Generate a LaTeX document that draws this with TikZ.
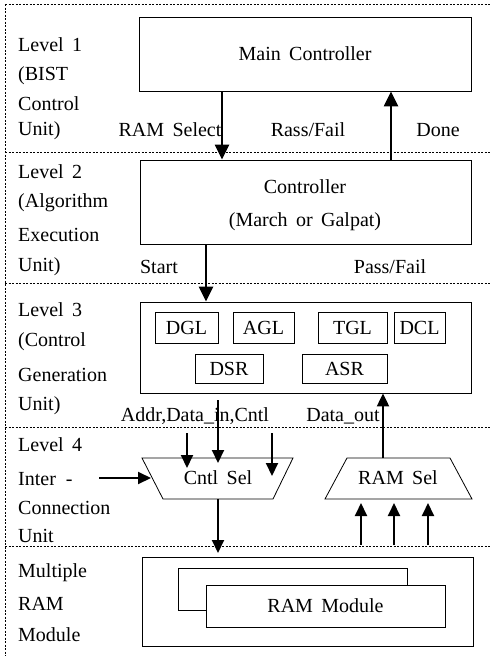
\documentclass[tikz,border=0pt]{standalone}
\usepackage{fontspec}
\setmainfont{Liberation Serif}
\usetikzlibrary{arrows.meta}
\newcommand{\ws}{\hspace{0.42em}}
\begin{document}
\begin{tikzpicture}[x=1pt,y=-1pt,
  every node/.style={font=\fontsize{20}{22}\selectfont, inner sep=0pt},
  box/.style={draw, line width=0.8pt},
  sep/.style={line width=0.55pt, dash pattern=on 2pt off 1.5pt},
  arr/.style={line width=2.3pt, -{Triangle[length=15pt,width=14pt]}},
  sarr/.style={line width=2pt, -{Triangle[length=13pt,width=12pt]}},
  lvl/.style={anchor=west}]
\useasboundingbox (0,0) rectangle (491,656);
% frame and separators
\draw[sep] (5,4) -- (491,4);
\draw[sep] (5,4) -- (5,656);
\draw[sep] (5,152) -- (491,152);
\draw[sep] (5,283) -- (491,283);
\draw[sep] (5,427) -- (491,427);
\draw[sep] (5,546) -- (491,546);
% level labels
\node[lvl] (l1a) at (18,45) {Level\ws 1};
\node[lvl] (l1b) at (18,76) {(BIST};
\node[lvl] (l1c) at (18,104) {Control};
\node[lvl] (l1d) at (18,131) {Unit)};
\node[lvl] (l2a) at (18,172) {Level\ws 2};
\node[lvl] (l2b) at (18,203) {(Algorithm};
\node[lvl] (l2c) at (18,235) {Execution};
\node[lvl] (l2d) at (18,267) {Unit)};
\node[lvl] (l3a) at (18,310) {Level\ws 3};
\node[lvl] (l3b) at (18,342) {(Control};
\node[lvl] (l3c) at (18,375) {Generation};
\node[lvl] (l3d) at (18,406) {Unit)};
\node[lvl] (l4a) at (18,445) {Level\ws 4};
\node[lvl] (l4b) at (18,479) {Inter\ \ -};
\node[lvl] (l4c) at (18,508) {Connection};
\node[lvl] (l4d) at (18,536) {Unit};
\node[lvl] (l5a) at (18,573) {Multiple};
\node[lvl] (l5b) at (18,604) {RAM};
\node[lvl] (l5c) at (18,635) {Module};
% level 1
\node[box, minimum width=332pt, minimum height=74pt] (main) at (305,54) {Main\ws Controller};
\node (ramsel) at (170,130) {RAM\ws Select};
\node (rass) at (308,130) {Rass/Fail};
\node (done) at (438,130) {Done};
% level 2
\node[box, minimum width=331pt, minimum height=84pt] (ctrl) at (305.5,202) {};
\node (ctrlt) at (305,187) {Controller};
\node (ctrlb) at (305,222) {(March\ws or\ws Galpat)};
\node (start) at (159,267) {Start};
\node (pass) at (390,267) {Pass/Fail};
\draw[arr] (main.south -| 222,0) -- (ctrl.north -| 222,0);
\draw[arr] (ctrl.north -| 391,0) -- (main.south -| 391,0);
% level 3
\node[box, minimum width=331pt, minimum height=91pt] (cgu) at (305.5,347.5) {};
\node[box, minimum width=63pt, minimum height=31pt] (dgl) at (186.5,327.5) {DGL};
\node[box, minimum width=61pt, minimum height=31pt] (agl) at (263.5,327.5) {AGL};
\node[box, minimum width=69pt, minimum height=31pt] (tgl) at (352.5,327.5) {TGL};
\node[box, minimum width=51pt, minimum height=31pt] (dcl) at (419.5,327.5) {DCL};
\node[box, minimum width=68pt, minimum height=29pt] (dsr) at (229,368.5) {DSR};
\node[box, minimum width=85pt, minimum height=29pt] (asr) at (344.5,368.5) {ASR};
\draw[arr] (ctrl.south -| 206,0) -- (cgu.north -| 206,0);
\node (addr) at (195,416) {Addr,Data\_in,Cntl};
\node (dout) at (343,416) {Data\_out};
% level 4
\coordinate (cs1) at (142,458); \coordinate (cs2) at (293,458);
\coordinate (cs3) at (273,499); \coordinate (cs4) at (163,499);
\draw[box] (cs1) -- (cs2) -- (cs3) -- (cs4) -- cycle;
\node (cntlsel) at (218,478) {Cntl\ws Sel};
\coordinate (rs1) at (347,458); \coordinate (rs2) at (450,458);
\coordinate (rs3) at (472,499); \coordinate (rs4) at (325,499);
\draw[box] (rs1) -- (rs2) -- (rs3) -- (rs4) -- cycle;
\node (ramselbox) at (398,478) {RAM\ws Sel};
\coordinate (a1s) at (187,433); \coordinate (a1e) at (187,468);
\coordinate (a2s) at (218,400); \coordinate (a2e) at (218,463);
\coordinate (a3s) at (272,433); \coordinate (a3e) at (272,476);
\draw[sarr] (a1s) -- (a1e);
\draw[sarr] (a2s) -- (a2e);
\draw[sarr] (a3s) -- (a3e);
\coordinate (inl) at (99,478); \coordinate (inr) at (151,478);
\draw[sarr] (inl) -- (inr);
\draw[sarr] (rs1 -| 383,0) -- (cgu.south -| 383,0);
\coordinate (u1s) at (361,545); \coordinate (u1e) at (361,503);
\coordinate (u2s) at (394,545); \coordinate (u2e) at (394,503);
\coordinate (u3s) at (428,545); \coordinate (u3e) at (428,503);
\draw[sarr] (u1s) -- (u1e);
\draw[sarr] (u2s) -- (u2e);
\draw[sarr] (u3s) -- (u3e);
% level 5
\node[box, minimum width=331pt, minimum height=89pt] (mram) at (307.5,601.5) {};
\coordinate (dn) at (218,553);
\draw[sarr] (cs4 -| 218,0) -- (dn);
\node[box, minimum width=229pt, minimum height=42pt] (back) at (292.5,589) {};
\node[box, fill=white, minimum width=239pt, minimum height=42pt] (front) at (325.5,606) {RAM\ws Module};
\end{tikzpicture}
\end{document}
